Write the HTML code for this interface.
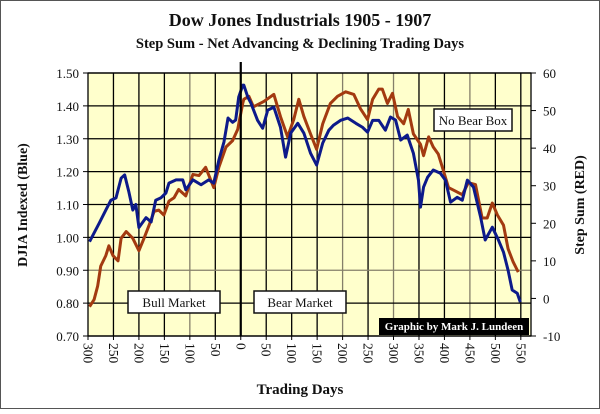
<!DOCTYPE html>
<html><head><meta charset="utf-8">
<style>
html,body{margin:0;padding:0;background:#fff;}
body{width:600px;height:409px;overflow:hidden;}
svg text{font-family:"Liberation Serif",serif;}
</style></head>
<body>
<svg id="chart" width="600" height="409" viewBox="0 0 600 409" xmlns="http://www.w3.org/2000/svg">
<rect x="0.5" y="0.5" width="599" height="408" fill="#fff" stroke="#555" stroke-width="1"/>
<text x="300" y="26" text-anchor="middle" font-size="18" font-weight="bold" fill="#111">Dow Jones Industrials 1905 -  1907</text>
<text x="300" y="48" text-anchor="middle" font-size="14.5" font-weight="bold" fill="#111">Step Sum - Net Advancing &amp; Declining Trading Days</text>
<rect x="88" y="73" width="443" height="263" fill="#ffffcc"/>
<g id="grid"></g>
<g id="series"></g>
<g id="axes"></g>
<text transform="translate(27,205) rotate(-90)" text-anchor="middle" font-size="14" font-weight="bold" fill="#111">DJIA Indexed (Blue)</text>
<text transform="translate(584,205) rotate(-90)" text-anchor="middle" font-size="14" font-weight="bold" fill="#111">Step Sum (RED)</text>
<text x="300" y="394" text-anchor="middle" font-size="15" font-weight="bold" fill="#111">Trading Days</text>
<g><rect x="128" y="291" width="92" height="22" fill="#fff" stroke="#111" stroke-width="1.5"/><text x="174" y="307" text-anchor="middle" font-size="13" fill="#111">Bull Market</text></g>
<g><rect x="254" y="291" width="92" height="22" fill="#fff" stroke="#111" stroke-width="1.5"/><text x="300" y="307" text-anchor="middle" font-size="13" fill="#111">Bear Market</text></g>
<g><rect x="434" y="109" width="78" height="22" fill="#fff" stroke="#111" stroke-width="1.5"/><text x="473" y="125" text-anchor="middle" font-size="13" fill="#111">No Bear Box</text></g>
<g><rect x="379" y="318" width="150" height="17" fill="#000"/><text x="454" y="330" text-anchor="middle" font-size="11" font-weight="bold" fill="#fff">Graphic by Mark J. Lundeen</text></g>
</svg>
<script>
const blueDays=[-297,-278,-265,-255,-245,-235,-228,-220,-212,-206,-200,-186,-176,-167,-157,-147,-141,-127,-114,-108,-94,-78,-63,-53,-43,-33,-25,-16,-10,-4,4,6,14,20,33,43,53,65,78,88,98,112,124,137,149,161,173,182,196,210,226,239,249,259,271,284,294,304,314,327,339,349,353,359,367,378,392,402,412,425,435,445,457,471,480,494,506,516,525,533,543,549];
const blueValues=[0.987,1.043,1.083,1.113,1.12,1.18,1.19,1.14,1.083,1.10,1.03,1.06,1.047,1.113,1.12,1.135,1.165,1.175,1.175,1.145,1.175,1.16,1.175,1.165,1.235,1.29,1.363,1.35,1.357,1.427,1.463,1.463,1.426,1.408,1.356,1.332,1.387,1.396,1.335,1.244,1.317,1.347,1.317,1.256,1.22,1.287,1.326,1.341,1.356,1.363,1.347,1.335,1.32,1.356,1.356,1.326,1.366,1.357,1.296,1.311,1.256,1.174,1.092,1.153,1.183,1.205,1.195,1.174,1.107,1.122,1.113,1.174,1.153,1.062,0.992,1.031,0.992,0.955,0.9,0.84,0.83,0.803];
const redDays=[-297,-288,-281,-275,-265,-259,-251,-241,-235,-225,-212,-200,-190,-180,-170,-161,-151,-141,-131,-122,-108,-94,-82,-69,-53,-43,-29,-16,-6,4,6,16,25,45,65,78,92,104,114,124,137,149,161,176,190,206,222,235,249,259,271,278,288,298,308,320,329,339,353,359,369,378,388,398,408,421,435,447,461,474,484,494,504,516,525,535,545];
const redValues=[-2.2,-0.3,3.3,8.6,11.4,14,11.4,10,16,17.8,16,12.7,16,19.5,23.2,23.5,22.2,25.9,26.8,29,27.3,33,32.7,34.9,29.5,34.9,40.3,42,45,52,53,53.8,51,52.4,54.3,48.4,43,47.6,53,48.4,43.8,39.7,46.5,51.9,53.8,55,54.3,50.5,47.6,53,55.7,55.7,51.9,54.6,48.4,46.5,50.3,43.8,41,38,43,40.3,38.4,34,29.5,28.6,27.6,30.8,30.3,21.4,21.4,25.4,22.2,19.5,13.2,9.7,7];
const xTicks=[-300,-250,-200,-150,-100,-50,0,50,100,150,200,250,300,350,400,450,500,550];
const leftTicks=[0.7,0.8,0.9,1.0,1.1,1.2,1.3,1.4,1.5];
const rightTicks=[-10,0,10,20,30,40,50,60];

const NS='http://www.w3.org/2000/svg';
const X0=88,X1=531,Y0=73,Y1=336;
const xDom=[-300,570];
function xs(t){return X0+(t-xDom[0])/(xDom[1]-xDom[0])*(X1-X0);}
function yl(v){return Y1-(v-0.7)/(1.5-0.7)*(Y1-Y0);}
function yr(v){return Y1-(v+10)/70*(Y1-Y0);}
function mk(tag,attrs,parent){const e=document.createElementNS(NS,tag);for(const k in attrs)e.setAttribute(k,attrs[k]);parent.appendChild(e);return e;}
const grid=document.getElementById('grid'),series=document.getElementById('series'),axes=document.getElementById('axes');
const greyX=[-100,200,300,450];
xTicks.forEach(t=>{
  const x=xs(t);
  if(t!==-300){
    const l=mk('line',{x1:x,x2:x,y1:Y0,y2:Y1,stroke:greyX.includes(t)?'#857f6a':'#000','stroke-width':1.3},grid);
    
    
  }
  const lab=mk('text',{transform:`translate(${x-4.5},343) rotate(90)`,'font-size':13.5,fill:'#111'},axes);
  lab.textContent=Math.abs(t);
  
  
  const tk=mk('line',{x1:x,x2:x,y1:Y1,y2:Y1+4,stroke:'#000'},axes);
  
  
});
leftTicks.forEach(v=>{
  const y=yl(v);
  const g=mk('line',{x1:X0,x2:X1,y1:y,y2:y,stroke:Math.abs(v-0.9)<1e-6?'#857f6a':'#000','stroke-width':1.3},grid);
  
  
  const lab=mk('text',{x:79,y:y+5,'text-anchor':'end','font-size':13,fill:'#111'},axes);
  lab.textContent=v.toFixed(2);
  
  
  const tk=mk('line',{x1:X0-5,x2:X0,y1:y,y2:y,stroke:'#000'},axes);
  
  
});
rightTicks.forEach(v=>{
  const y=yr(v);
  const lab=mk('text',{x:543,y:y+5,'font-size':13,fill:'#111'},axes);
  lab.textContent=v;
  
  
  const tk=mk('line',{x1:X1,x2:X1+5,y1:y,y2:y,stroke:'#000'},axes);
  
  
});
const frame=mk('rect',{x:X0,y:Y0,width:X1-X0,height:Y1-Y0,fill:'none',stroke:'#000','stroke-width':1.3},axes);


const zl=mk('line',{x1:xs(0),x2:xs(0),y1:62,y2:Y1,stroke:'#000','stroke-width':2.2},axes);


const rp=mk('polyline',{points:redDays.map((d,i)=>xs(d)+','+yr(redValues[i])).join(' '),fill:'none',stroke:'#a33a10','stroke-width':3,'stroke-linejoin':'round'},series);


const bp=mk('polyline',{points:blueDays.map((d,i)=>xs(d)+','+yl(blueValues[i])).join(' '),fill:'none',stroke:'#0d1a8a','stroke-width':3,'stroke-linejoin':'round'},series);


</script>
</body></html>
